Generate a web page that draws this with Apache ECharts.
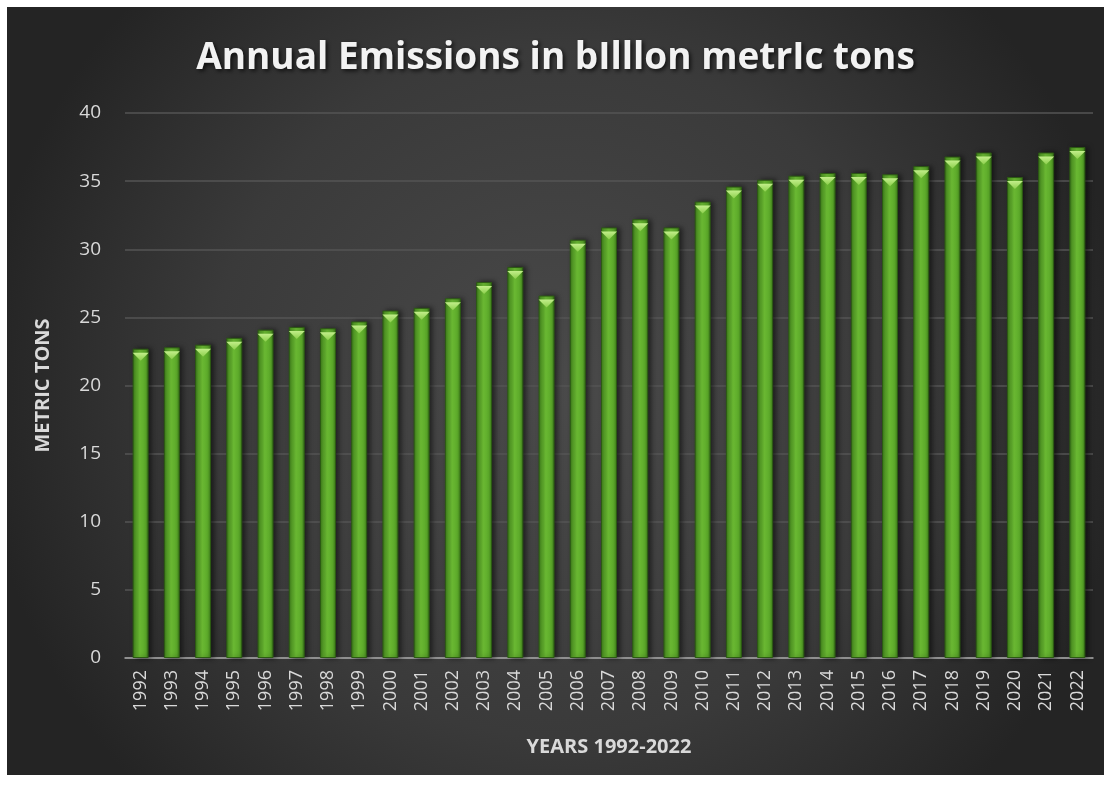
<!DOCTYPE html>
<html>
<head>
<meta charset="utf-8">
<script src="https://cdn.jsdelivr.net/npm/echarts@6/dist/echarts.min.js"></script>
<style>
  html, body { margin: 0; padding: 0; background: #fff; }
  #wrap { position: relative; width: 1109px; height: 787px; background: #fff; }
  #chart { position: absolute; left: 7px; top: 7px; width: 1097px; height: 768px; }
</style>
</head>
<body>
<div id="wrap"><div id="chart"></div></div>
<script>
// data
const years = ['1992', '1993', '1994', '1995', '1996', '1997', '1998', '1999', '2000', '2001',
  '2002', '2003', '2004', '2005', '2006', '2007', '2008', '2009', '2010', '2011',
  '2012', '2013', '2014', '2015', '2016', '2017', '2018', '2019', '2020', '2021', '2022']
const emissions = [22.7, 22.8, 23.0, 23.5, 24.1, 24.3, 24.2, 24.7, 25.5, 25.7,
  26.4, 27.6, 28.7, 26.6, 30.7, 31.6, 32.2, 31.6, 33.5, 34.6,
  35.1, 35.4, 35.6, 35.6, 35.5, 36.1, 36.8, 37.1, 35.3, 37.1, 37.5]
const yTicks = [0, 5, 10, 15, 20, 25, 30, 35, 40]

const chartDom = document.getElementById('chart')
const myChart = echarts.init(chartDom)

const labelFont = '"Open Sans", "Noto Sans", sans-serif'

const option = {
  backgroundColor: new echarts.graphic.RadialGradient(0.5, 0.5, 0.75, [
    { offset: 0, color: '#4a4a4a' },
    { offset: 0.6, color: '#3a3a3a' },
    { offset: 1, color: '#242424' },
  ]),
  animation: false,
  title: {
    text: 'Annual Emissions in bIlllon metrIc tons',
    left: 'center',
    top: 28,
    textStyle: {
      color: '#f2f2f2',
      fontFamily: labelFont,
      fontWeight: 'bold',
      fontSize: 37,
      textShadowColor: 'rgba(0,0,0,0.7)',
      textShadowBlur: 4,
      textShadowOffsetX: 2,
      textShadowOffsetY: 2,
    },
  },
  grid: {
    left: 118,
    right: 11,
    top: 106,
    bottom: 117,
  },
  xAxis: {
    type: 'category',
    data: years,
    name: 'YEARS 1992-2022',
    nameLocation: 'middle',
    nameGap: 79,
    nameTextStyle: {
      color: '#d9d9d9',
      fontFamily: labelFont,
      fontWeight: 'bold',
      fontSize: 20,
    },
    axisLine: { lineStyle: { color: '#a6a6a6', width: 1.5 } },
    axisTick: { show: false },
    axisLabel: {
      rotate: 90,
      interval: 0,
      margin: 12,
      color: '#d9d9d9',
      fontFamily: labelFont,
      fontSize: 18,
    },
  },
  yAxis: {
    type: 'value',
    min: 0,
    max: 40,
    interval: 5,
    name: 'METRIC TONS',
    nameLocation: 'middle',
    nameGap: 72,
    nameTextStyle: {
      color: '#d9d9d9',
      fontFamily: labelFont,
      fontWeight: 'bold',
      fontSize: 20,
    },
    axisLine: { show: false },
    axisTick: { show: false },
    axisLabel: {
      margin: 24,
      color: '#d9d9d9',
      fontFamily: labelFont,
      fontSize: 19,
      formatter: (v) => (yTicks.includes(v) ? String(v) : ''),
    },
    splitLine: { lineStyle: { color: '#555555', width: 1.5 } },
  },
  series: [
    {
      name: 'Emissions',
      type: 'bar',
      data: emissions,
      barWidth: 16,
      barGap: '-100%',
      itemStyle: {
        color: new echarts.graphic.LinearGradient(0, 0, 1, 0, [
          { offset: 0, color: '#3a7719' },
          { offset: 0.2, color: '#5aa629' },
          { offset: 0.45, color: '#6dbd34' },
          { offset: 0.8, color: '#5aa629' },
          { offset: 1, color: '#3a7719' },
        ]),
        borderColor: '#2c5a13',
        borderWidth: 1,
        shadowColor: 'rgba(0,0,0,0.55)',
        shadowBlur: 5,
        shadowOffsetX: 3,
        shadowOffsetY: 0,
      },
    },
    {
      name: 'cap',
      type: 'pictorialBar',
      data: emissions,
      symbol: 'path://M0,0 L10,0 L5,5 Z',
      symbolSize: [16, 8],
      symbolPosition: 'end',
      symbolOffset: [0, '50%'],
      barGap: '-100%',
      z: 5,
      itemStyle: {
        color: new echarts.graphic.LinearGradient(0, 0, 0, 1, [
          { offset: 0, color: '#c2ee8a' },
          { offset: 1, color: '#8ccf4c' },
        ]),
      },
    },
  ],
}

option && myChart.setOption(option)
</script>
</body>
</html>
